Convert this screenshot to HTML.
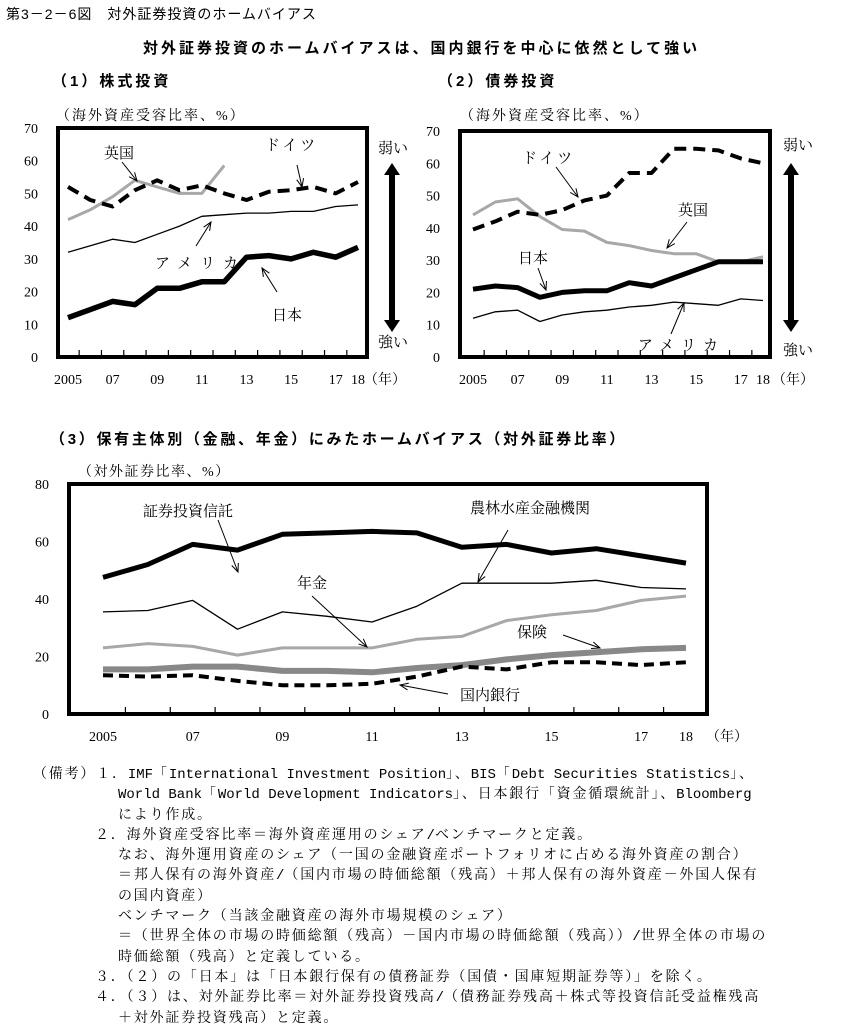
<!DOCTYPE html>
<html><head><meta charset="utf-8">
<style>
body{margin:0;background:#fff;width:846px;height:1024px;overflow:hidden;font-family:"Liberation Serif","Noto Serif CJK SC","Noto Sans CJK JP",serif;color:#000}
.t{position:absolute;white-space:nowrap}
svg{position:absolute;left:0;top:0}
svg text{font-family:"Liberation Serif","Noto Serif CJK SC",serif}
.notes div{white-space:nowrap}
.m{font-family:"Liberation Mono",monospace;letter-spacing:0}
</style></head><body>
<div class="t" style="left:6px;top:4px;font-size:14px;letter-spacing:1px;font-family:'Liberation Sans','Noto Sans CJK JP',sans-serif">第3－2－6図　対外証券投資のホームバイアス</div>
<div class="t" style="left:143px;top:37px;font-size:15px;letter-spacing:3px;font-weight:bold;font-family:'Liberation Sans','Noto Sans CJK JP',sans-serif">対外証券投資のホームバイアスは、国内銀行を中心に依然として強い</div>
<div class="t" style="left:52px;top:70px;font-size:15px;letter-spacing:3px;font-weight:bold;font-family:'Liberation Sans','Noto Sans CJK JP',sans-serif">（1）株式投資</div>
<div class="t" style="left:438px;top:70px;font-size:15px;letter-spacing:3px;font-weight:bold;font-family:'Liberation Sans','Noto Sans CJK JP',sans-serif">（2）債券投資</div>
<div class="t" style="left:50px;top:428px;font-size:15px;letter-spacing:2.7px;font-weight:bold;font-family:'Liberation Sans','Noto Sans CJK JP',sans-serif">（3）保有主体別（金融、年金）にみたホームバイアス（対外証券比率）</div>
<svg id="svg" width="846" height="1024"></svg>
<div class="notes" style="position:absolute;left:33px;top:765px;font-size:14px;letter-spacing:1.8px;line-height:20.3px;font-family:'Liberation Serif','Noto Serif CJK SC',serif">
<div>（備考）１．<span class="m">IMF</span>「<span class="m">International Investment Position</span>」、<span class="m">BIS</span>「<span class="m">Debt Securities Statistics</span>」、</div>
<div style="padding-left:85px"><span class="m">World Bank</span>「<span class="m">World Development Indicators</span>」、日本銀行「資金循環統計」、<span class="m">Bloomberg</span></div>
<div style="padding-left:85px">により作成。</div>
<div style="padding-left:62px">２．海外資産受容比率＝海外資産運用のシェア<span class="m">/</span>ベンチマークと定義。</div>
<div style="padding-left:85px">なお、海外運用資産のシェア（一国の金融資産ポートフォリオに占める海外資産の割合）</div>
<div style="padding-left:85px">＝邦人保有の海外資産<span class="m">/</span>（国内市場の時価総額（残高）＋邦人保有の海外資産－外国人保有</div>
<div style="padding-left:85px">の国内資産）</div>
<div style="padding-left:85px">ベンチマーク（当該金融資産の海外市場規模のシェア）</div>
<div style="padding-left:85px">＝（世界全体の市場の時価総額（残高）－国内市場の時価総額（残高））<span class="m">/</span>世界全体の市場の</div>
<div style="padding-left:85px">時価総額（残高）と定義している。</div>
<div style="padding-left:62px">３．（２）の「日本」は「日本銀行保有の債務証券（国債・国庫短期証券等）」を除く。</div>
<div style="padding-left:62px">４．（３）は、対外証券比率＝対外証券投資残高<span class="m">/</span>（債務証券残高＋株式等投資信託受益権残高</div>
<div style="padding-left:85px">＋対外証券投資残高）と定義。</div>
</div>
<script>
const years = [2005,2006,2007,2008,2009,2010,2011,2012,2013,2014,2015,2016,2017,2018];
const xTickLabels = ["2005","07","09","11","13","15","17","18"];
const xTickYears = [2005,2007,2009,2011,2013,2015,2017,2018];
const yTicks12 = [0,10,20,30,40,50,60,70];
const yTicks3 = [0,20,40,60,80];
// panel 1
const eq_japan = [12,14.5,17,16,21,21,23,23,30.5,31,30,32,30.5,33.5];
const eq_us = [32,34,36,35,37.5,40,43,43.5,44,44,44.5,44.5,46,46.5];
const eq_germany = [52,48,46,51,54,51,52.5,50,48,50.5,51,52,50,53.5];
const eq_uk = [42,45,49,54,52,50,50,58.5];
// panel 2
const bd_germany = [39.5,42,45,44,45.5,48.5,50,57,57,64.5,64.5,64,61.5,60];
const bd_uk = [44,48,49,43.5,39.5,39,35.5,34.5,33,32,32,29.5,29.5,31];
const bd_japan = [21,22,21.5,18.5,20,20.5,20.5,23,22,24.5,27,29.5,29.5,29.5];
const bd_us = [12,14,14.5,11,13,14,14.5,15.5,16,17,16.5,16,18,17.5];
// panel 3
const h_trust = [47.5,52,59,57,62.5,63,63.5,63,58,59,56,57.5,55,52.5];
const h_agri = [35.5,36,39.5,29.5,35.5,34,32,37.5,45.5,45.5,45.5,46.5,44,43.5];
const h_pension = [23,24.5,23.5,20.5,23,23,23,26,27,32.5,34.5,36,39.5,41];
const h_insurance = [15.5,15.5,16.5,16.5,15,15,14.5,16,17,19,20.5,21.5,22.5,23];
const h_bank = [13.5,13,13.5,11.5,10,10,10.5,13,16.5,15.5,18,18,17,18];

const svg = document.getElementById('svg');
const NS = 'http://www.w3.org/2000/svg';
function mk(tag, attrs, parent){const e=document.createElementNS(NS,tag);for(const k in attrs)e.setAttribute(k,attrs[k]);(parent||svg).appendChild(e);return e;}
function txt(x,y,s,size,anchor,name,ls){const t=mk('text',{x:x,y:y,'font-size':size,'text-anchor':anchor||'start'});if(ls)t.setAttribute('letter-spacing',ls);t.textContent=s;


return t;}
function arrow(x1,y1,x2,y2,name){const g=mk('g',{});


mk('line',{x1:x1,y1:y1,x2:x2,y2:y2,stroke:'#000','stroke-width':1},g);
const a=Math.atan2(y2-y1,x2-x1),L=9;
mk('polyline',{points:`${x2-L*Math.cos(a-0.4)},${y2-L*Math.sin(a-0.4)} ${x2},${y2} ${x2-L*Math.cos(a+0.4)},${y2-L*Math.sin(a+0.4)}`,fill:'none',stroke:'#000','stroke-width':1},g);}

function panel(cfg){
  const {L,R,T,B,x0,x1,ymax,yticks,name,ylabel,ylabelX,ylabelY,unitX,yls} = cfg;
  const xs = y => x0 + (y-2005)*(x1-x0)/13;
  const ys = v => B - v*(B-T)/ymax;
  const box = mk('rect',{x:L,y:T,width:R-L,height:B-T,fill:'none',stroke:'#000','stroke-width':4});
  
  
  yticks.forEach(v=>txt(L-20,ys(v)+5,String(v),14,'end',name+'-y-tick'));
  years.forEach((y,i)=>{const x=(i==0)?null:xs(y)-(x1-x0)/26; if(x) mk('line',{x1:x,y1:B,x2:x,y2:B-7,stroke:'#000','stroke-width':1.2});});
  xTickYears.forEach((y,i)=>txt(xs(y),B+27,xTickLabels[i],14,'middle',name+'-x-tick'));
  txt(unitX,B+27,'（年）',14,'start',name+'-x-unit');
  txt(ylabelX,ylabelY,ylabel,14,'start',name+'-y-axis-title',yls);
  return {xs,ys};
}
function series(ax,vals,style,name){
  const pts=vals.map((v,i)=>ax.xs(years[i]).toFixed(1)+','+ax.ys(v).toFixed(1)).join(' ');
  const p=mk('polyline',Object.assign({points:pts,fill:'none','stroke-linejoin':'round'},style));
  
  
}
function vArrow(x,y1,y2){mk('line',{x1:x,y1:y1+8,x2:x,y2:y2-8,stroke:'#000','stroke-width':6});
mk('polygon',{points:`${x-8},${y1+12} ${x},${y1} ${x+8},${y1+12}`});mk('polygon',{points:`${x-8},${y2-12} ${x},${y2} ${x+8},${y2-12}`});}

// Panel 1
const a1 = panel({L:58,R:367,T:128,B:357,x0:68,x1:358,ymax:70,yticks:yTicks12,name:'equity',ylabel:'（海外資産受容比率、%）',ylabelX:56,ylabelY:120,unitX:364,yls:2});
series(a1,eq_uk,{stroke:'#a8a8a8','stroke-width':3},'equity-uk-line');
series(a1,eq_germany,{stroke:'#000','stroke-width':4,'stroke-dasharray':'12,7'},'equity-germany-line');
series(a1,eq_us,{stroke:'#000','stroke-width':1.3},'equity-us-line');
series(a1,eq_japan,{stroke:'#000','stroke-width':5.5},'equity-japan-line');
txt(104,158,'英国',15,'start','label-uk');arrow(122,162,137,181,'arrow-uk');
txt(265,150,'ドイツ',15,'start','label-germany','3');arrow(297,165,302,187,'arrow-germany');
txt(155,268,'アメリカ',15,'start','label-us','8');arrow(196,246,211,222,'arrow-us');
txt(272,320,'日本',15,'start','label-japan');arrow(277,292,262,268,'arrow-japan');
txt(378,153,'弱い',15,'start','weak-label');txt(378,347,'強い',15,'start','strong-label');vArrow(392,163,332);

// Panel 2
const a2 = panel({L:460,R:770,T:131,B:357,x0:473,x1:763,ymax:70,yticks:yTicks12,name:'bond',ylabel:'（海外資産受容比率、%）',ylabelX:460,ylabelY:120,unitX:772,yls:2});
series(a2,bd_uk,{stroke:'#a8a8a8','stroke-width':3},'bond-uk-line');
series(a2,bd_germany,{stroke:'#000','stroke-width':4,'stroke-dasharray':'12,7'},'bond-germany-line');
series(a2,bd_japan,{stroke:'#000','stroke-width':5},'bond-japan-line');
series(a2,bd_us,{stroke:'#000','stroke-width':1.3},'bond-us-line');
txt(522,163,'ドイツ',15,'start','label-germany-2','3');arrow(556,167,578,197,'arrow-germany-2');
txt(678,215,'英国',15,'start','label-uk-2');arrow(687,222,667,248,'arrow-uk-2');
txt(518,263,'日本',15,'start','label-japan-2');arrow(538,268,546,290,'arrow-japan-2');
txt(638,350,'アメリカ',15,'start','label-us-2','7');arrow(671,334,684,303,'arrow-us-2');
txt(783,150,'弱い',15,'start','weak-label-2');txt(783,355,'強い',15,'start','strong-label-2');vArrow(791,163,332);

// Panel 3
const a3 = panel({L:69,R:707,T:484,B:714,x0:103,x1:686,ymax:80,yticks:yTicks3,name:'holder',ylabel:'（対外証券比率、%）',ylabelX:78,ylabelY:476,unitX:706,yls:1.5});
series(a3,h_trust,{stroke:'#000','stroke-width':5},'trust-line');
series(a3,h_agri,{stroke:'#000','stroke-width':1.3},'agri-line');
series(a3,h_pension,{stroke:'#a8a8a8','stroke-width':3},'pension-line');
series(a3,h_insurance,{stroke:'#888','stroke-width':6},'insurance-line');
series(a3,h_bank,{stroke:'#000','stroke-width':4,'stroke-dasharray':'10,6'},'bank-line');
txt(143,516,'証券投資信託',15,'start','label-trust');arrow(218,520,238,572,'arrow-trust');
txt(470,513,'農林水産金融機関',15,'start','label-agri');arrow(508,530,478,582,'arrow-agri');
txt(297,588,'年金',15,'start','label-pension');arrow(312,596,367,647,'arrow-pension');
txt(517,637,'保険',15,'start','label-insurance');arrow(563,635,600,648,'arrow-insurance');
txt(460,700,'国内銀行',15,'start','label-bank');arrow(448,694,400,685,'arrow-bank');
</script>
</body></html>
